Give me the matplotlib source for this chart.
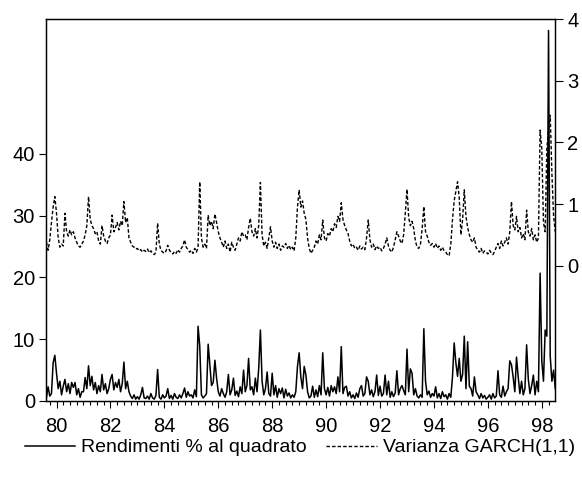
import numpy as np
import matplotlib
matplotlib.use("Agg")
import matplotlib.pyplot as plt
from matplotlib.ticker import FixedLocator, MultipleLocator

plt.rcParams['font.family'] = ['Liberation Sans', 'DejaVu Sans']

# === DATI: 16 osservazioni l'anno, da agosto 1979 a giugno 1998 ===
start_year = 1979.625
per_year = 16

# rendimenti % al quadrato (scala di sinistra)
rend_sq = [
    0.5, 2.3, 0.8, 1.2, 6.2, 7.4,                                                      # 1979
    4.5, 2.0, 3.2, 1.0, 2.4, 3.5, 1.5, 2.8, 1.2, 3.0, 2.2, 3.0, 1.0, 2.0, 0.6, 1.5,    # 1980
    1.5, 3.8, 2.0, 5.7, 2.5, 4.0, 1.8, 3.0, 1.2, 2.5, 1.5, 4.3, 1.8, 2.8, 1.2, 2.0,    # 1981
    3.5, 4.3, 1.8, 3.0, 2.2, 3.5, 1.5, 2.8, 6.3, 2.0, 3.2, 1.5, 0.8, 0.4, 1.0, 0.3,    # 1982
    0.7, 0.3, 1.0, 2.2, 0.5, 0.4, 0.8, 0.3, 1.2, 0.5, 0.3, 0.9, 5.1, 0.6, 0.3, 1.0,    # 1983
    0.5, 0.8, 2.0, 0.4, 0.9, 0.3, 1.2, 0.6, 0.4, 1.0, 0.5, 1.2, 2.1, 0.6, 1.5, 0.8,    # 1984
    1.0, 0.5, 1.8, 0.7, 12.1, 8.9, 1.0, 0.5, 0.8, 1.2, 9.2, 5.8, 2.5, 3.0, 6.6, 3.7,   # 1985
    1.5, 0.8, 2.0, 1.2, 0.6, 1.5, 4.3, 1.0, 1.8, 3.7, 0.9, 1.6, 0.7, 2.3, 1.2, 5.0,    # 1986
    1.5, 2.5, 6.9, 1.8, 2.3, 1.0, 3.7, 1.5, 5.3, 11.5, 3.2, 1.0, 2.0, 4.7, 1.2, 0.8,   # 1987
    4.5, 1.0, 2.5, 0.6, 2.0, 1.2, 2.1, 0.5, 1.9, 0.8, 1.3, 0.5, 1.0, 0.6, 1.5, 5.6,    # 1988
    7.8, 3.9, 2.0, 5.6, 4.2, 1.5, 0.5, 0.8, 2.4, 0.6, 1.8, 0.7, 2.5, 1.0, 7.8, 2.0,    # 1989
    1.0, 2.2, 0.8, 2.5, 1.5, 2.3, 1.2, 3.9, 1.5, 8.8, 1.2, 2.2, 2.4, 0.8, 1.5, 0.5,    # 1990
    1.0, 0.4, 1.3, 0.6, 2.0, 2.5, 0.8, 1.2, 3.9, 3.2, 1.0, 1.8, 0.7, 1.5, 4.2, 0.9,    # 1991
    2.4, 0.8, 1.2, 4.2, 1.0, 3.2, 0.6, 1.5, 0.7, 1.3, 4.9, 1.0, 2.0, 2.5, 1.7, 1.0,    # 1992
    8.4, 1.5, 5.2, 4.5, 1.0, 2.0, 0.8, 0.5, 1.0, 0.6, 11.7, 3.2, 1.0, 1.6, 0.6, 1.2,   # 1993
    0.8, 2.3, 0.5, 1.2, 0.4, 1.5, 0.7, 1.0, 0.3, 1.2, 0.6, 3.9, 9.4, 6.2, 4.0, 6.9,    # 1994
    3.2, 4.3, 10.5, 2.0, 9.6, 2.4, 2.0, 0.8, 3.9, 1.5, 1.0, 0.4, 1.2, 0.5, 0.9, 0.3,   # 1995
    0.6, 1.0, 0.3, 1.2, 0.5, 0.8, 4.9, 1.0, 0.6, 2.4, 0.8, 1.5, 2.0, 6.5, 5.9, 3.9,    # 1996
    1.5, 7.1, 3.9, 1.2, 3.2, 1.0, 2.0, 9.1, 3.5, 1.2, 2.5, 4.2, 1.0, 3.2, 1.5, 20.7,   # 1997
    6.5, 3.2, 11.5, 10.5, 60.0, 7.3, 3.2, 5.0, 2.0,                                    # 1998
]

# varianza condizionale GARCH(1,1) (scala di destra)
garch_var = [
    0.38, 0.25, 0.42, 0.70, 0.95, 1.12,                                                          # 1979
    0.85, 0.45, 0.30, 0.35, 0.32, 0.85, 0.55, 0.48, 0.58, 0.50, 0.55, 0.45, 0.38, 0.32, 0.30, 0.35,  # 1980
    0.40, 0.50, 0.65, 1.12, 0.75, 0.65, 0.60, 0.52, 0.55, 0.40, 0.35, 0.65, 0.48, 0.40, 0.36, 0.45,  # 1981
    0.50, 0.82, 0.55, 0.62, 0.70, 0.58, 0.72, 0.65, 1.04, 0.70, 0.78, 0.45, 0.38, 0.32, 0.30, 0.27,  # 1982
    0.28, 0.24, 0.26, 0.22, 0.25, 0.23, 0.27, 0.21, 0.24, 0.20, 0.18, 0.22, 0.69, 0.35, 0.25, 0.22,  # 1983
    0.20, 0.24, 0.33, 0.25, 0.22, 0.19, 0.23, 0.20, 0.26, 0.22, 0.28, 0.32, 0.42, 0.30, 0.26, 0.22,  # 1984
    0.25, 0.20, 0.28, 0.22, 0.30, 1.36, 0.45, 0.30, 0.35, 0.28, 0.82, 0.65, 0.72, 0.60, 0.84, 0.70,  # 1985
    0.55, 0.45, 0.38, 0.30, 0.40, 0.28, 0.35, 0.22, 0.38, 0.30, 0.25, 0.35, 0.45, 0.40, 0.55, 0.48,  # 1986
    0.50, 0.42, 0.62, 0.77, 0.55, 0.48, 0.60, 0.45, 0.65, 1.35, 0.50, 0.32, 0.38, 0.28, 0.45, 0.63,  # 1987
    0.40, 0.30, 0.38, 0.28, 0.35, 0.25, 0.32, 0.30, 0.36, 0.28, 0.33, 0.26, 0.30, 0.24, 0.45, 0.95,  # 1988
    1.23, 0.95, 1.05, 0.85, 0.75, 0.45, 0.28, 0.20, 0.25, 0.30, 0.40, 0.35, 0.50, 0.42, 0.74, 0.45,  # 1989
    0.40, 0.52, 0.48, 0.60, 0.55, 0.68, 0.62, 0.80, 0.72, 1.02, 0.75, 0.65, 0.58, 0.52, 0.40, 0.32,  # 1990
    0.35, 0.28, 0.30, 0.25, 0.32, 0.27, 0.30, 0.26, 0.45, 0.74, 0.42, 0.30, 0.35, 0.26, 0.32, 0.28,  # 1991
    0.30, 0.24, 0.28, 0.35, 0.45, 0.32, 0.25, 0.22, 0.30, 0.42, 0.55, 0.48, 0.40, 0.36, 0.50, 0.85,  # 1992
    1.24, 0.78, 0.65, 0.72, 0.60, 0.40, 0.30, 0.28, 0.35, 0.60, 0.96, 0.55, 0.48, 0.38, 0.33, 0.36,  # 1993
    0.30, 0.36, 0.28, 0.32, 0.25, 0.30, 0.24, 0.22, 0.18, 0.16, 0.35, 0.75, 1.05, 1.20, 1.36, 1.10,  # 1994
    0.50, 0.75, 1.23, 0.80, 0.62, 0.50, 0.42, 0.38, 0.45, 0.30, 0.25, 0.22, 0.28, 0.20, 0.24, 0.22,  # 1995
    0.19, 0.25, 0.21, 0.18, 0.23, 0.30, 0.36, 0.28, 0.40, 0.32, 0.38, 0.45, 0.35, 0.55, 1.04, 0.65,  # 1996
    0.58, 0.80, 0.55, 0.62, 0.45, 0.52, 0.42, 0.90, 0.55, 0.48, 0.60, 0.42, 0.50, 0.38, 0.45, 2.20,  # 1997
    1.90, 0.70, 0.55, 1.90, 2.20, 2.44, 1.50, 0.80, 0.55,                                            # 1998
]

anni = [1980, 1982, 1984, 1986, 1988, 1990, 1992, 1994, 1996, 1998]
anni_etichette = ['80', '82', '84', '86', '88', '90', '92', '94', '96', '98']

t = start_year + np.arange(len(rend_sq)) / per_year

# === GRAFICO ===
fig = plt.figure(figsize=(5.82, 4.86), dpi=100)
ax = fig.add_axes([46 / 582, 1 - 401 / 486, 509 / 582, 382 / 486])
ax2 = ax.twinx()

l1, = ax.plot(t, rend_sq, color='black', lw=1.1)
l2, = ax2.plot(t, garch_var, color='black', lw=1.0, ls=(0, (2.5, 1.5)))

ax.set_xlim(1979.61, 1998.49)
ax.set_ylim(0, 61.86)
ax2.set_ylim(-2.194, 4.0)
ax.set_yticks([0, 10, 20, 30, 40])
ax2.set_yticks([0, 1, 2, 3, 4])

ax.xaxis.set_major_locator(FixedLocator(anni))
ax.set_xticklabels(anni_etichette)
ax.xaxis.set_minor_locator(MultipleLocator(0.25))

for a in (ax, ax2):
    for s in a.spines.values():
        s.set_linewidth(0.9)
ax.tick_params(axis='both', which='major', direction='out', length=5, width=0.8,
               labelsize=14.5, pad=3)
ax.tick_params(axis='x', which='minor', direction='out', length=3, width=0.8)
ax.tick_params(axis='x', which='major', pad=6.5)
ax2.tick_params(axis='y', direction='out', length=6, width=0.8, labelsize=14.5, pad=3)

fig.legend([l1, l2], ['Rendimenti % al quadrato', 'Varianza GARCH(1,1)'],
           loc='center', bbox_to_anchor=(0.515, 0.079), ncol=2, frameon=False,
           fontsize=14, handlelength=2.6, handletextpad=0.3, columnspacing=1.0)

fig.savefig('out.png', dpi=100)
